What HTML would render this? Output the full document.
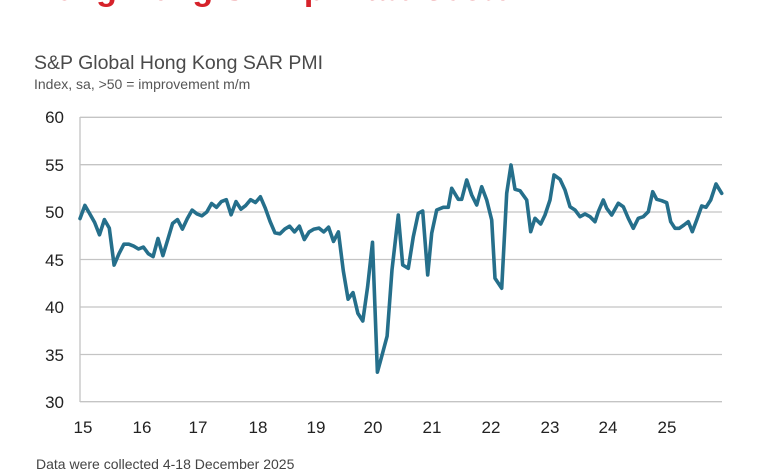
<!DOCTYPE html>
<html><head><meta charset="utf-8"><style>
html,body{margin:0;padding:0;background:#fff;}
svg{display:block;font-family:"Liberation Sans",sans-serif;}
</style></head><body>
<svg id="c" width="780" height="470" viewBox="0 0 780 470">
<text x="30" y="0" font-size="34" fill="#d6222a" font-weight="bold">Hong Kong SAR private sector</text>
<text x="34" y="69" font-size="19.5" fill="#4a4a4a">S&amp;P Global Hong Kong SAR PMI</text>
<text x="34" y="89" font-size="14" fill="#555">Index, sa, &gt;50 = improvement m/m</text>
<g stroke="#c4c4c4" stroke-width="1.3">
<line x1="80" x2="722" y1="117.3" y2="117.3"/>
<line x1="80" x2="722" y1="164.7" y2="164.7"/>
<line x1="80" x2="722" y1="212" y2="212"/>
<line x1="80" x2="722" y1="259.5" y2="259.5"/>
<line x1="80" x2="722" y1="307" y2="307"/>
<line x1="80" x2="722" y1="354.5" y2="354.5"/>
<line x1="80" x2="722" y1="401.7" y2="401.7"/>
<line x1="80" x2="80" y1="117" y2="402"/>
</g>
<g font-size="17" fill="#222" text-anchor="end">
<text x="64" y="123">60</text><text x="64" y="171">55</text><text x="64" y="218">50</text>
<text x="64" y="266">45</text><text x="64" y="313">40</text><text x="64" y="361">35</text><text x="64" y="408">30</text>
</g>
<g font-size="17" fill="#222" text-anchor="middle">
<text x="83" y="433">15</text><text x="142" y="433">16</text><text x="198" y="433">17</text>
<text x="258" y="433">18</text><text x="316" y="433">19</text><text x="373" y="433">20</text>
<text x="432" y="433">21</text><text x="491" y="433">22</text><text x="550" y="433">23</text>
<text x="608" y="433">24</text><text x="667" y="433">25</text>
</g>
<text x="36" y="469" font-size="14" fill="#444">Data were collected 4-18 December 2025</text>
<polyline id="ln" fill="none" stroke="#256f8b" stroke-width="3.6" stroke-linejoin="round" stroke-linecap="round" points=""/>
</svg>
<script>
var a=[49.3,50.7,49.8,48.9,47.6,49.2,48.3,44.4,45.6,46.6,46.6,46.4,
46.1,46.3,45.6,45.3,47.2,45.4,47.1,48.8,49.2,48.2,49.3,50.2,
49.8,49.6,50.0,50.9,50.5,51.1,51.3,49.7,51.1,50.3,50.7,51.3,
51.0,51.6,50.4,49.0,47.8,47.7,48.2,48.5,47.9,48.5,47.1,47.9,
48.2,48.3,47.9,48.4,46.9,47.9,43.8,40.8,41.5,39.3,38.5,42.1,
46.8,33.1,35.0,36.9,43.9];
var pts=[];
for(var i=0;i<a.length;i++){pts.push((80+i*4.875).toFixed(1)+","+(212-(a[i]-50)*9.48).toFixed(1));}
var z=[[55,195],[68,345],[85,355],[100,260],[115,190],[128,183],[143,375],[155,250],[170,180],[190,172],[205,172],[215,115],[235,148],[245,148],[260,90],[275,135],[290,165],[305,110],[320,150],[335,210],[345,385],[365,415],[380,130],[393,45],[405,118],[420,122],[440,150],[452,245],[465,205],[482,222],[495,195],[510,150],[522,75],[540,88],[555,120],[570,170],[585,180],[600,200],[615,192],[630,200],[645,215],[655,185],[670,150],[680,175],[695,195],[715,160],[730,170],[745,205],[760,235],[775,205],[790,200],[805,185],[818,125],[830,148],[845,152],[860,158],[872,215],[885,235],[898,235],[912,225],[925,215],[937,245],[950,210],[965,168],[978,172],[992,150],[1008,102],[1025,130]];
for(var j=0;j<z.length;j++){pts.push((380+z[j][0]/3).toFixed(1)+","+(150+z[j][1]/3).toFixed(1));}
document.getElementById("ln").setAttribute("points",pts.join(" "));
</script>
</body></html>
